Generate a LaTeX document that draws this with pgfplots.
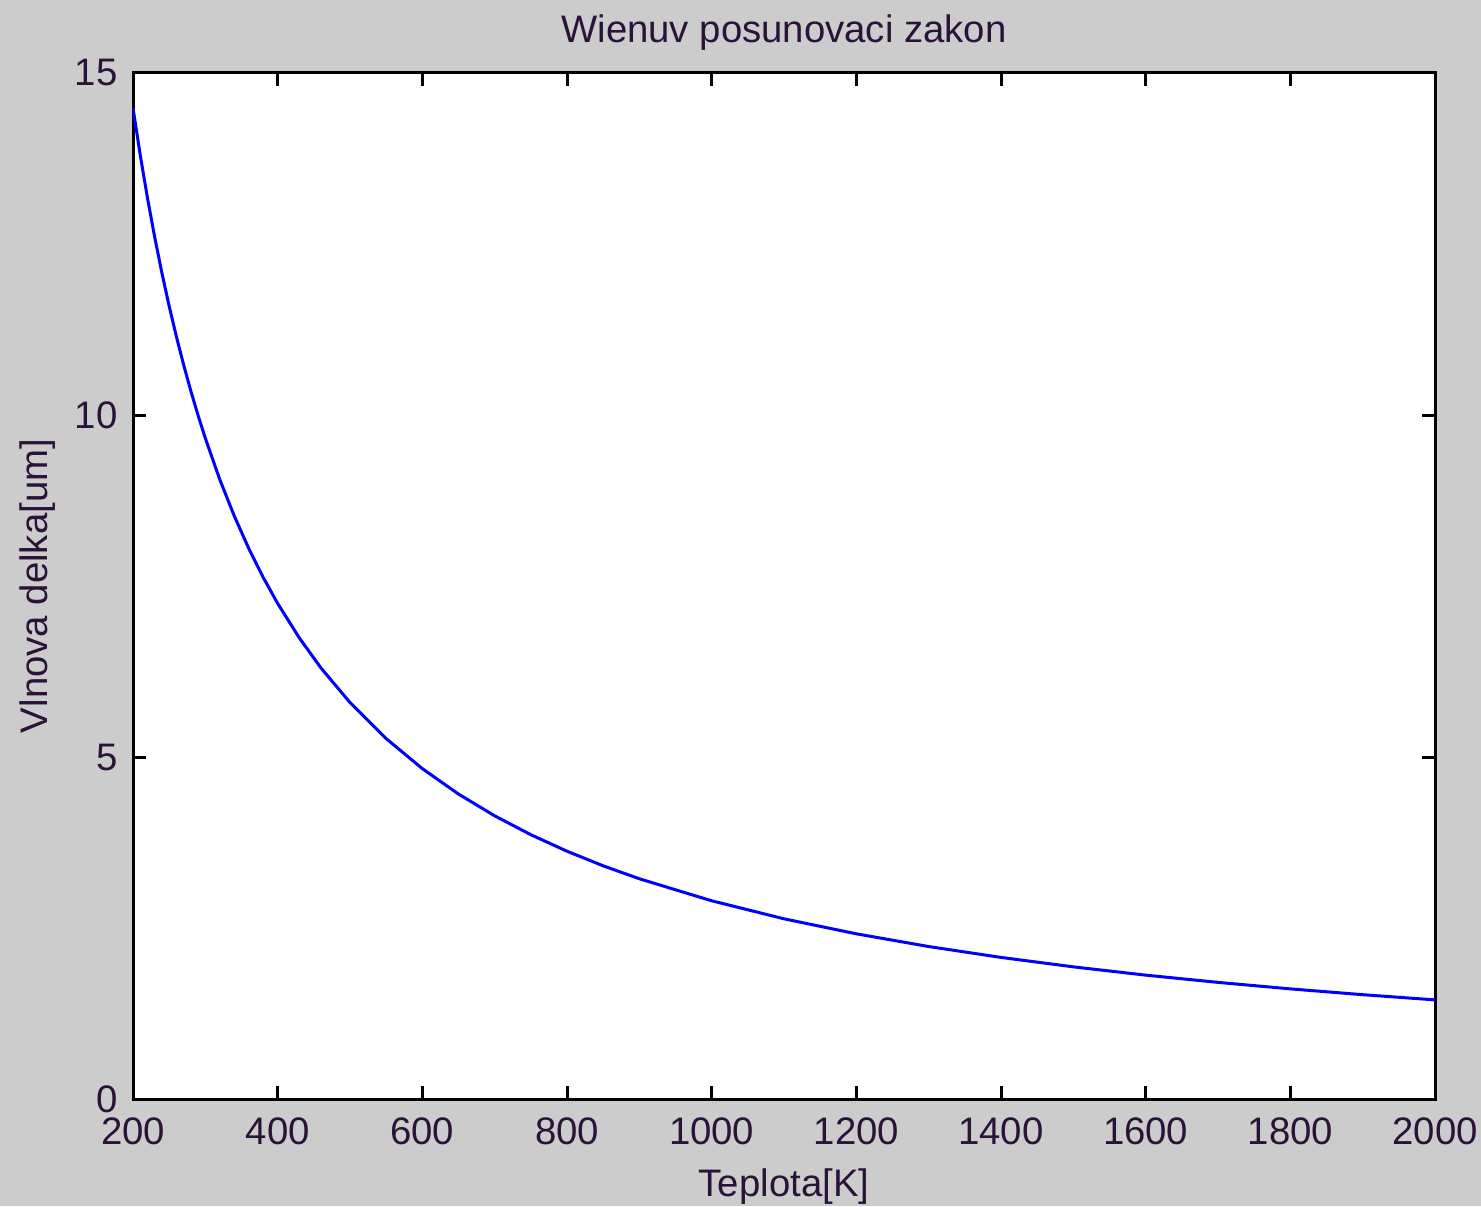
\documentclass[border=0pt]{standalone}
\usepackage{pgfplots}
\pgfplotsset{compat=1.18}
\usepackage{fontspec}
\setmainfont{Liberation Sans}
\definecolor{bggray}{HTML}{CCCCCC}
\definecolor{txt}{HTML}{2A1238}
\begin{document}
\begin{tikzpicture}[font=\fontsize{11.5}{14}\selectfont]
\fill[bggray] (-39.9pt,-32.1pt) rectangle (404.4pt,329.7pt);
\path[use as bounding box] (-39.9pt,-32.1pt) rectangle (404.4pt,329.7pt);
\begin{axis}[
  at={(0pt,0pt)}, anchor=south west,
  scale only axis, width=390.6pt, height=307.8pt,
  xmin=200, xmax=2000, ymin=0, ymax=15,
  xtick={200,400,...,2000}, ytick={0,5,10,15},
  tick align=inside, major tick length=3.9pt,
  axis line style={line width=0.9pt, black},
  every tick/.style={line width=0.9pt, black},
  axis background/.style={fill=white},
  /pgf/number format/assume math mode=true,
  /pgf/number format/1000 sep={},
  xticklabel style={inner sep=0pt, yshift=-5.4pt, text=txt},
  yticklabel style={inner sep=0pt, xshift=-4.5pt, text=txt},
  every axis title shift=0pt,
  title={Wienuv posunovaci zakon},
  title style={at={(axis description cs:0.5,1.0302)}, anchor=base, yshift=0pt, inner sep=0pt, text=txt},
  xlabel={Teplota[K]},
  xlabel style={at={(axis description cs:0.5,-0.0955)}, anchor=base, inner sep=0pt, text=txt},
  ylabel={Vlnova delka[um]},
  ylabel style={at={(axis description cs:-0.066,0.5)}, anchor=base, rotate=0, inner sep=0pt, text=txt},
]
\addplot[blue, line width=0.9pt] table {
x y
200 14.49
210 13.80
220 13.173
230 12.600
240 12.075
250 11.592
260 11.146
270 10.733
280 10.350
290 9.993
300 9.66
320 9.056
340 8.524
360 8.050
380 7.626
400 7.245
430 6.740
460 6.300
500 5.796
550 5.269
600 4.83
650 4.458
700 4.140
750 3.864
800 3.6225
850 3.409
900 3.220
1000 2.898
1100 2.6345
1200 2.415
1300 2.229
1400 2.070
1500 1.932
1600 1.811
1700 1.705
1800 1.610
1900 1.525
2000 1.449
};
\end{axis}
\end{tikzpicture}
\end{document}
